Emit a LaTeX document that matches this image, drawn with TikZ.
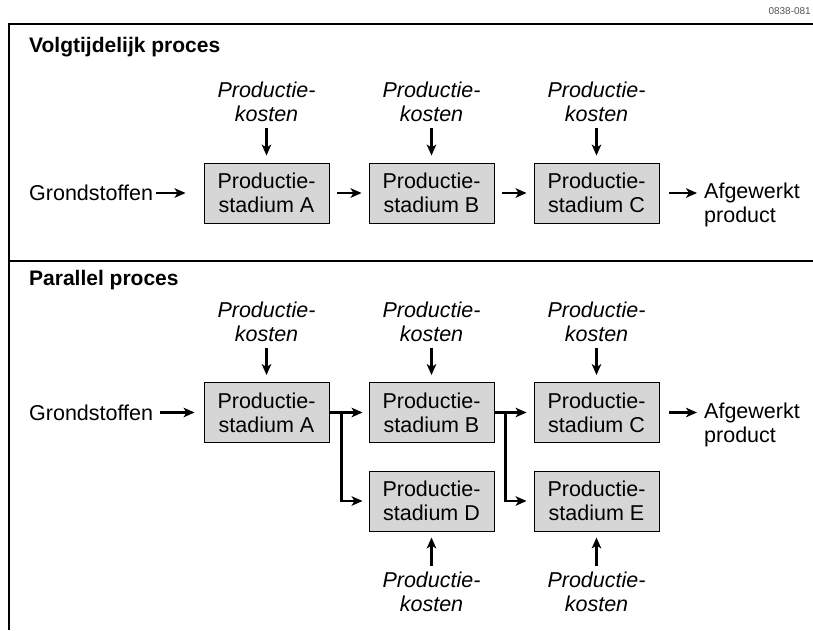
\documentclass[tikz,border=0pt]{standalone}
\usepackage{fontspec}
\setmainfont{Liberation Sans}
\usetikzlibrary{arrows.meta,calc}
\definecolor{boxgray}{HTML}{D6D6D6}
\definecolor{codegray}{HTML}{555555}

\begin{document}
\begin{tikzpicture}[x=1pt,y=-1pt,
  txt/.style={font=\fontsize{21.5}{24}\selectfont},
  stage/.style={txt,draw=black,line width=0.9pt,fill=boxgray,minimum width=125pt,
    minimum height=60pt,align=center,inner sep=0pt},
  cost/.style={align=center,inner sep=0pt,font=\fontsize{21.5}{24}\selectfont\itshape},
  plain/.style={txt,inner sep=0pt},
  title/.style={anchor=west,inner sep=0pt,font=\fontsize{21}{24}\selectfont\bfseries},
  flow/.style={line width=2.2pt,-{Stealth[length=11pt,width=9.5pt,inset=3pt]}},
  frame/.style={line width=1.5pt}]

\useasboundingbox (0,0) rectangle (813,630);

% frame and separator
\draw[frame] (813,24) -- (9,24) -- (9,630);
\draw[frame] (9,261) -- (813,261);
\node[anchor=east,inner sep=0pt,text=codegray,font=\fontsize{10}{12}\selectfont] (code) at (811,11) {0838-081};

% ---------- sequential process ----------
\node[title] (t1) at (29,47) {Volgtijdelijk proces};

\node[stage] (a1) at (266.5,193) {Productie-\\stadium A};
\node[stage] (b1) at (431.5,193) {Productie-\\stadium B};
\node[stage] (c1) at (596.5,193) {Productie-\\stadium C};

\node[plain,anchor=west] (g1) at (29,193) {Grondstoffen};
\node[plain,anchor=west,align=left] (p1) at (704,205) {Afgewerkt\\product};

\foreach \s/\x in {a1/266.5,b1/431.5,c1/596.5}{
  \node[cost] (k\s) at (\x,102) {Productie-\\kosten};
  \draw[flow,shorten <=6pt,shorten >=7pt] (k\s) -- (\s);
}

\draw[flow,shorten <=3pt,shorten >=18pt] (g1) -- (a1);
\draw[flow,shorten <=8pt,shorten >=7pt] (a1) -- (b1);
\draw[flow,shorten <=8pt,shorten >=7pt] (b1) -- (c1);
\draw[flow,shorten <=10pt,shorten >=7pt] (c1) -- (c1 -| p1.west);

% ---------- parallel process ----------
\node[title] (t2) at (29,280) {Parallel proces};

\node[stage] (a2) at (266.5,412.5) {Productie-\\stadium A};
\node[stage] (b2) at (431.5,412.5) {Productie-\\stadium B};
\node[stage] (c2) at (596.5,412.5) {Productie-\\stadium C};
\node[stage] (d2) at (431.5,501) {Productie-\\stadium D};
\node[stage] (e2) at (596.5,501) {Productie-\\stadium E};

\node[plain,anchor=west] (g2) at (29,412.5) {Grondstoffen};
\node[plain,anchor=west,align=left] (p2) at (704,424.5) {Afgewerkt\\product};

\foreach \s/\x in {a2/266.5,b2/431.5,c2/596.5}{
  \node[cost] (k\s) at (\x,322) {Productie-\\kosten};
  \draw[flow,shorten <=6pt,shorten >=7pt] (k\s) -- (\s);
}
\foreach \s/\x in {d2/431.5,e2/596.5}{
  \node[cost] (k\s) at (\x,592) {Productie-\\kosten};
  \draw[flow,shorten <=6pt,shorten >=6pt] (k\s) -- (\s);
}

\draw[flow,shorten <=7pt,shorten >=9pt] (g2) -- (a2);
\draw[flow,shorten <=10pt,shorten >=7pt] (c2) -- (c2 -| p2.west);

% branching links: A feeds B and D, B feeds C and E
\coordinate (ja) at ($(a2.east)+(12,0)$);
\coordinate (jb) at ($(b2.east)+(11,0)$);
\draw[flow,shorten >=6pt] (a2) -- (b2);
\draw[flow,shorten >=6pt] (ja) |- (d2);
\draw[flow,shorten >=7pt] (b2) -- (c2);
\draw[flow,shorten >=7pt] (jb) |- (e2);
\end{tikzpicture}
\end{document}
